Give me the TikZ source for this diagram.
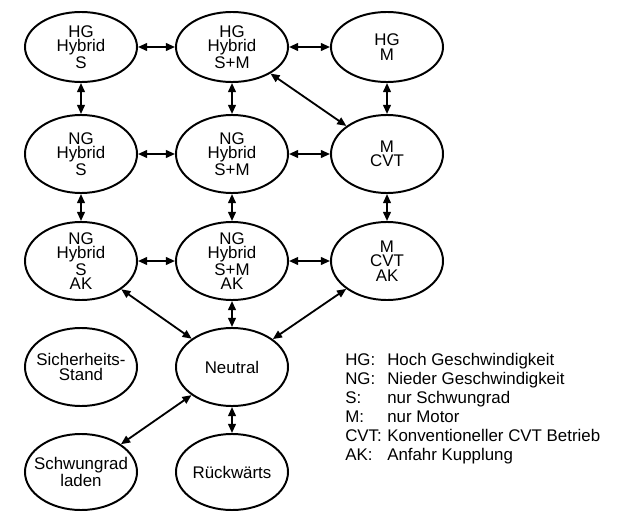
\documentclass[tikz,border=0pt]{standalone}
\usepackage{fontspec}
\setmainfont{Liberation Sans}
\usetikzlibrary{shapes.geometric,arrows.meta}

\begin{document}
\begin{tikzpicture}[x=0.025cm,y=-0.025cm,
		zustand/.style={ellipse, draw, line width=1.4pt, minimum width=2.8cm, minimum height=1.95cm, inner xsep=-0.25cm, inner ysep=-0.15cm, align=center, font=\fontsize{12}{10.3}\selectfont},
		oben/.style={zustand, minimum height=1.75cm},
		pfeil/.style={{Triangle[length=6.5pt,width=5.5pt]}-{Triangle[length=6.5pt,width=5.5pt]}, line width=1.3pt},
		legtext/.style={anchor=base west, inner sep=0pt, font=\fontsize{12}{14}\selectfont}]
		\useasboundingbox (0,0) rectangle (623,512);
		% Hochgeschwindigkeit
		\node[oben] (hgs) at (81,47) {HG\\Hybrid\\S};
		\node[oben] (hgsm) at (232,47) {HG\\Hybrid\\S+M};
		\node[oben] (hgm) at (387,47) {HG\\M};
		% Niedergeschwindigkeit
		\node[zustand] (ngs) at (81,154) {NG\\Hybrid\\S};
		\node[zustand] (ngsm) at (232,154) {NG\\Hybrid\\S+M};
		\node[zustand] (mcvt) at (387,154) {M\\CVT};
		\node[zustand] (ngsak) at (81,261) {NG\\Hybrid\\S\\AK};
		\node[zustand] (ngsmak) at (232,261) {NG\\Hybrid\\S+M\\AK};
		\node[zustand] (mcvtak) at (387,261) {M\\CVT\\AK};
		% untere Zustaende
		\node[zustand] (sich) at (81,367) {Sicherheits-\\Stand};
		\node[zustand] (neutral) at (232,367) {Neutral};
		\node[zustand, minimum height=1.9cm] (schw) at (81,472) {Schwungrad\\laden};
		\node[zustand, minimum height=1.9cm] (rueck) at (232,472) {Rückwärts};
		% Uebergaenge
		\draw[pfeil] (hgs)--(hgsm);
		\draw[pfeil] (hgsm)--(hgm);
		\draw[pfeil] (ngs)--(ngsm);
		\draw[pfeil] (ngsm)--(mcvt);
		\draw[pfeil] (ngsak)--(ngsmak);
		\draw[pfeil] (ngsmak)--(mcvtak);
		\draw[pfeil] (hgs)--(ngs);
		\draw[pfeil] (ngs)--(ngsak);
		\draw[pfeil] (hgsm)--(ngsm);
		\draw[pfeil] (ngsm)--(ngsmak);
		\draw[pfeil] (hgm)--(mcvt);
		\draw[pfeil] (mcvt)--(mcvtak);
		\draw[pfeil] (hgsm)--(mcvt);
		\draw[pfeil] (ngsak)--(neutral);
		\draw[pfeil] (ngsmak)--(neutral);
		\draw[pfeil] (mcvtak)--(neutral);
		\draw[pfeil] (neutral)--(schw);
		\draw[pfeil] (neutral)--(rueck);
		% Legende
		\foreach \kurz/\lang [count=\i] in {HG:/Hoch Geschwindigkeit, NG:/Nieder Geschwindigkeit, S:/nur Schwungrad, M:/nur Motor, CVT:/Konventioneller CVT Betrieb, AK:/Anfahr Kupplung}
			\node[legtext] (leg\i) at (345,{346+19*\i}) {\makebox[1.05cm][l]{\kurz}\lang};
	\end{tikzpicture}
\end{document}
